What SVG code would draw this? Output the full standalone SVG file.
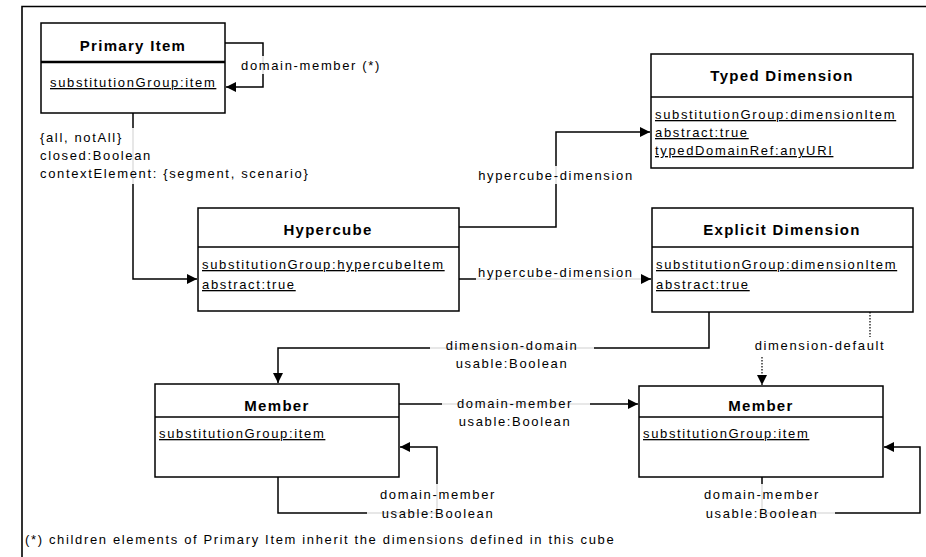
<svg xmlns="http://www.w3.org/2000/svg" width="926" height="557" viewBox="0 0 926 557">
<style>
text{font-family:"Liberation Sans",Arial,sans-serif;font-size:13px;letter-spacing:1.65px;fill:#000}
.t{font-weight:bold;font-size:15px;letter-spacing:1.3px;text-anchor:middle}
.a{text-decoration:underline}
.c{text-anchor:middle}
.box{fill:#fff;stroke:#000;stroke-width:1.5}
.div{stroke:#000;stroke-width:1.5}
.ln{fill:none;stroke:#000;stroke-width:1.5}
.dot{fill:none;stroke:#000;stroke-width:1.2;stroke-dasharray:1.5 1.5}
.bg{fill:#fff;fill-opacity:0.88}
.bgo{fill:#fff}
</style>
<defs>
<marker id="ah" viewBox="0 0 10 10" refX="10" refY="5" markerWidth="10" markerHeight="10" markerUnits="userSpaceOnUse" orient="auto">
<path d="M0,0 L10,5 L0,10 z" fill="#000"/>
</marker>
</defs>
<rect x="0" y="0" width="926" height="557" fill="#fff"/>
<path d="M22,557 V6.5 H926" fill="none" stroke="#000" stroke-width="1.6"/>

<g id="connectors">
<path class="ln" d="M225,43 H263 V87 H226" marker-end="url(#ah)"/>
<path class="ln" d="M133,113 V279 H197" marker-end="url(#ah)"/>
<path class="ln" d="M459,227 H556 V132 H650" marker-end="url(#ah)"/>
<path class="ln" d="M459,279 H651" marker-end="url(#ah)"/>
<path class="ln" d="M709,312 V348 H278 V383" marker-end="url(#ah)"/>
<path class="dot" d="M870,312 V348 H762 V385" marker-end="url(#ah)"/>
<path class="ln" d="M399,404 H638" marker-end="url(#ah)"/>
<path class="ln" d="M278,477 V513 H437 V447 H400" marker-end="url(#ah)"/>
<path class="ln" d="M762,477 V513 H920 V447 H884" marker-end="url(#ah)"/>

<rect class="bg" x="240" y="56" width="152" height="18"/>
<text x="241" y="70">domain-member (*)</text>
<rect class="bg" x="39" y="128" width="282" height="56"/>
<text x="40" y="142">{all, notAll}</text>
<text x="40" y="160">closed:Boolean</text>
<text x="40" y="178">contextElement: {segment, scenario}</text>
<rect class="bg" x="470" y="166" width="172" height="18"/>
<text class="c" x="556" y="180">hypercube-dimension</text>
<rect class="bg" x="476" y="265" width="165" height="15"/>
<text x="478" y="277">hypercube-dimension</text>
<rect class="bg" x="430" y="336" width="164" height="36"/>
<text class="c" x="512" y="350">dimension-domain</text>
<text class="c" x="512" y="368">usable:Boolean</text>
<rect class="bgo" x="752" y="337" width="136" height="19"/>
<text class="c" x="820" y="350">dimension-default</text>
<rect class="bg" x="442" y="394" width="148" height="36"/>
<text class="c" x="515" y="408">domain-member</text>
<text class="c" x="515" y="426">usable:Boolean</text>
<rect class="bg" x="367" y="484" width="145" height="37"/>
<text class="c" x="438" y="499">domain-member</text>
<text class="c" x="438" y="518">usable:Boolean</text>
<rect class="bg" x="690" y="484" width="145" height="37"/>
<text class="c" x="762" y="499">domain-member</text>
<text class="c" x="762" y="518">usable:Boolean</text>
</g>

<g id="primary-item">
<rect class="box" x="41" y="23" width="184" height="90"/>
<line x1="41" y1="62" x2="225" y2="62" stroke="#000" stroke-width="2.5"/>
<text class="t" x="133" y="51">Primary Item</text>
<text class="a" x="50" y="87">substitutionGroup:item</text>
</g>

<g id="typed-dimension">
<rect class="box" x="651" y="54" width="262" height="114"/>
<line class="div" x1="651" y1="97" x2="913" y2="97"/>
<text class="t" x="782" y="81">Typed Dimension</text>
<text class="a" x="655" y="119">substitutionGroup:dimensionItem</text>
<text class="a" x="655" y="137">abstract:true</text>
<text class="a" x="655" y="155">typedDomainRef:anyURI</text>
</g>

<g id="hypercube">
<rect class="box" x="198" y="208" width="261" height="103"/>
<line class="div" x1="198" y1="247" x2="459" y2="247"/>
<text class="t" x="328" y="235">Hypercube</text>
<text class="a" x="202" y="269">substitutionGroup:hypercubeItem</text>
<text class="a" x="202" y="289">abstract:true</text>
</g>

<g id="explicit-dimension">
<rect class="box" x="652" y="208" width="261" height="104"/>
<line class="div" x1="652" y1="247" x2="913" y2="247"/>
<text class="t" x="782" y="235">Explicit Dimension</text>
<text class="a" x="656" y="269">substitutionGroup:dimensionItem</text>
<text class="a" x="656" y="289">abstract:true</text>
</g>

<g id="member-1">
<rect class="box" x="155" y="384" width="244" height="93"/>
<line class="div" x1="155" y1="417" x2="399" y2="417"/>
<text class="t" x="277" y="411">Member</text>
<text class="a" x="159" y="438">substitutionGroup:item</text>
</g>

<g id="member-2">
<rect class="box" x="639" y="386" width="244" height="91"/>
<line class="div" x1="639" y1="417" x2="883" y2="417"/>
<text class="t" x="761" y="411">Member</text>
<text class="a" x="643" y="438">substitutionGroup:item</text>
</g>

<text x="25" y="544">(*) children elements of Primary Item inherit the dimensions defined in this cube</text>
</svg>
